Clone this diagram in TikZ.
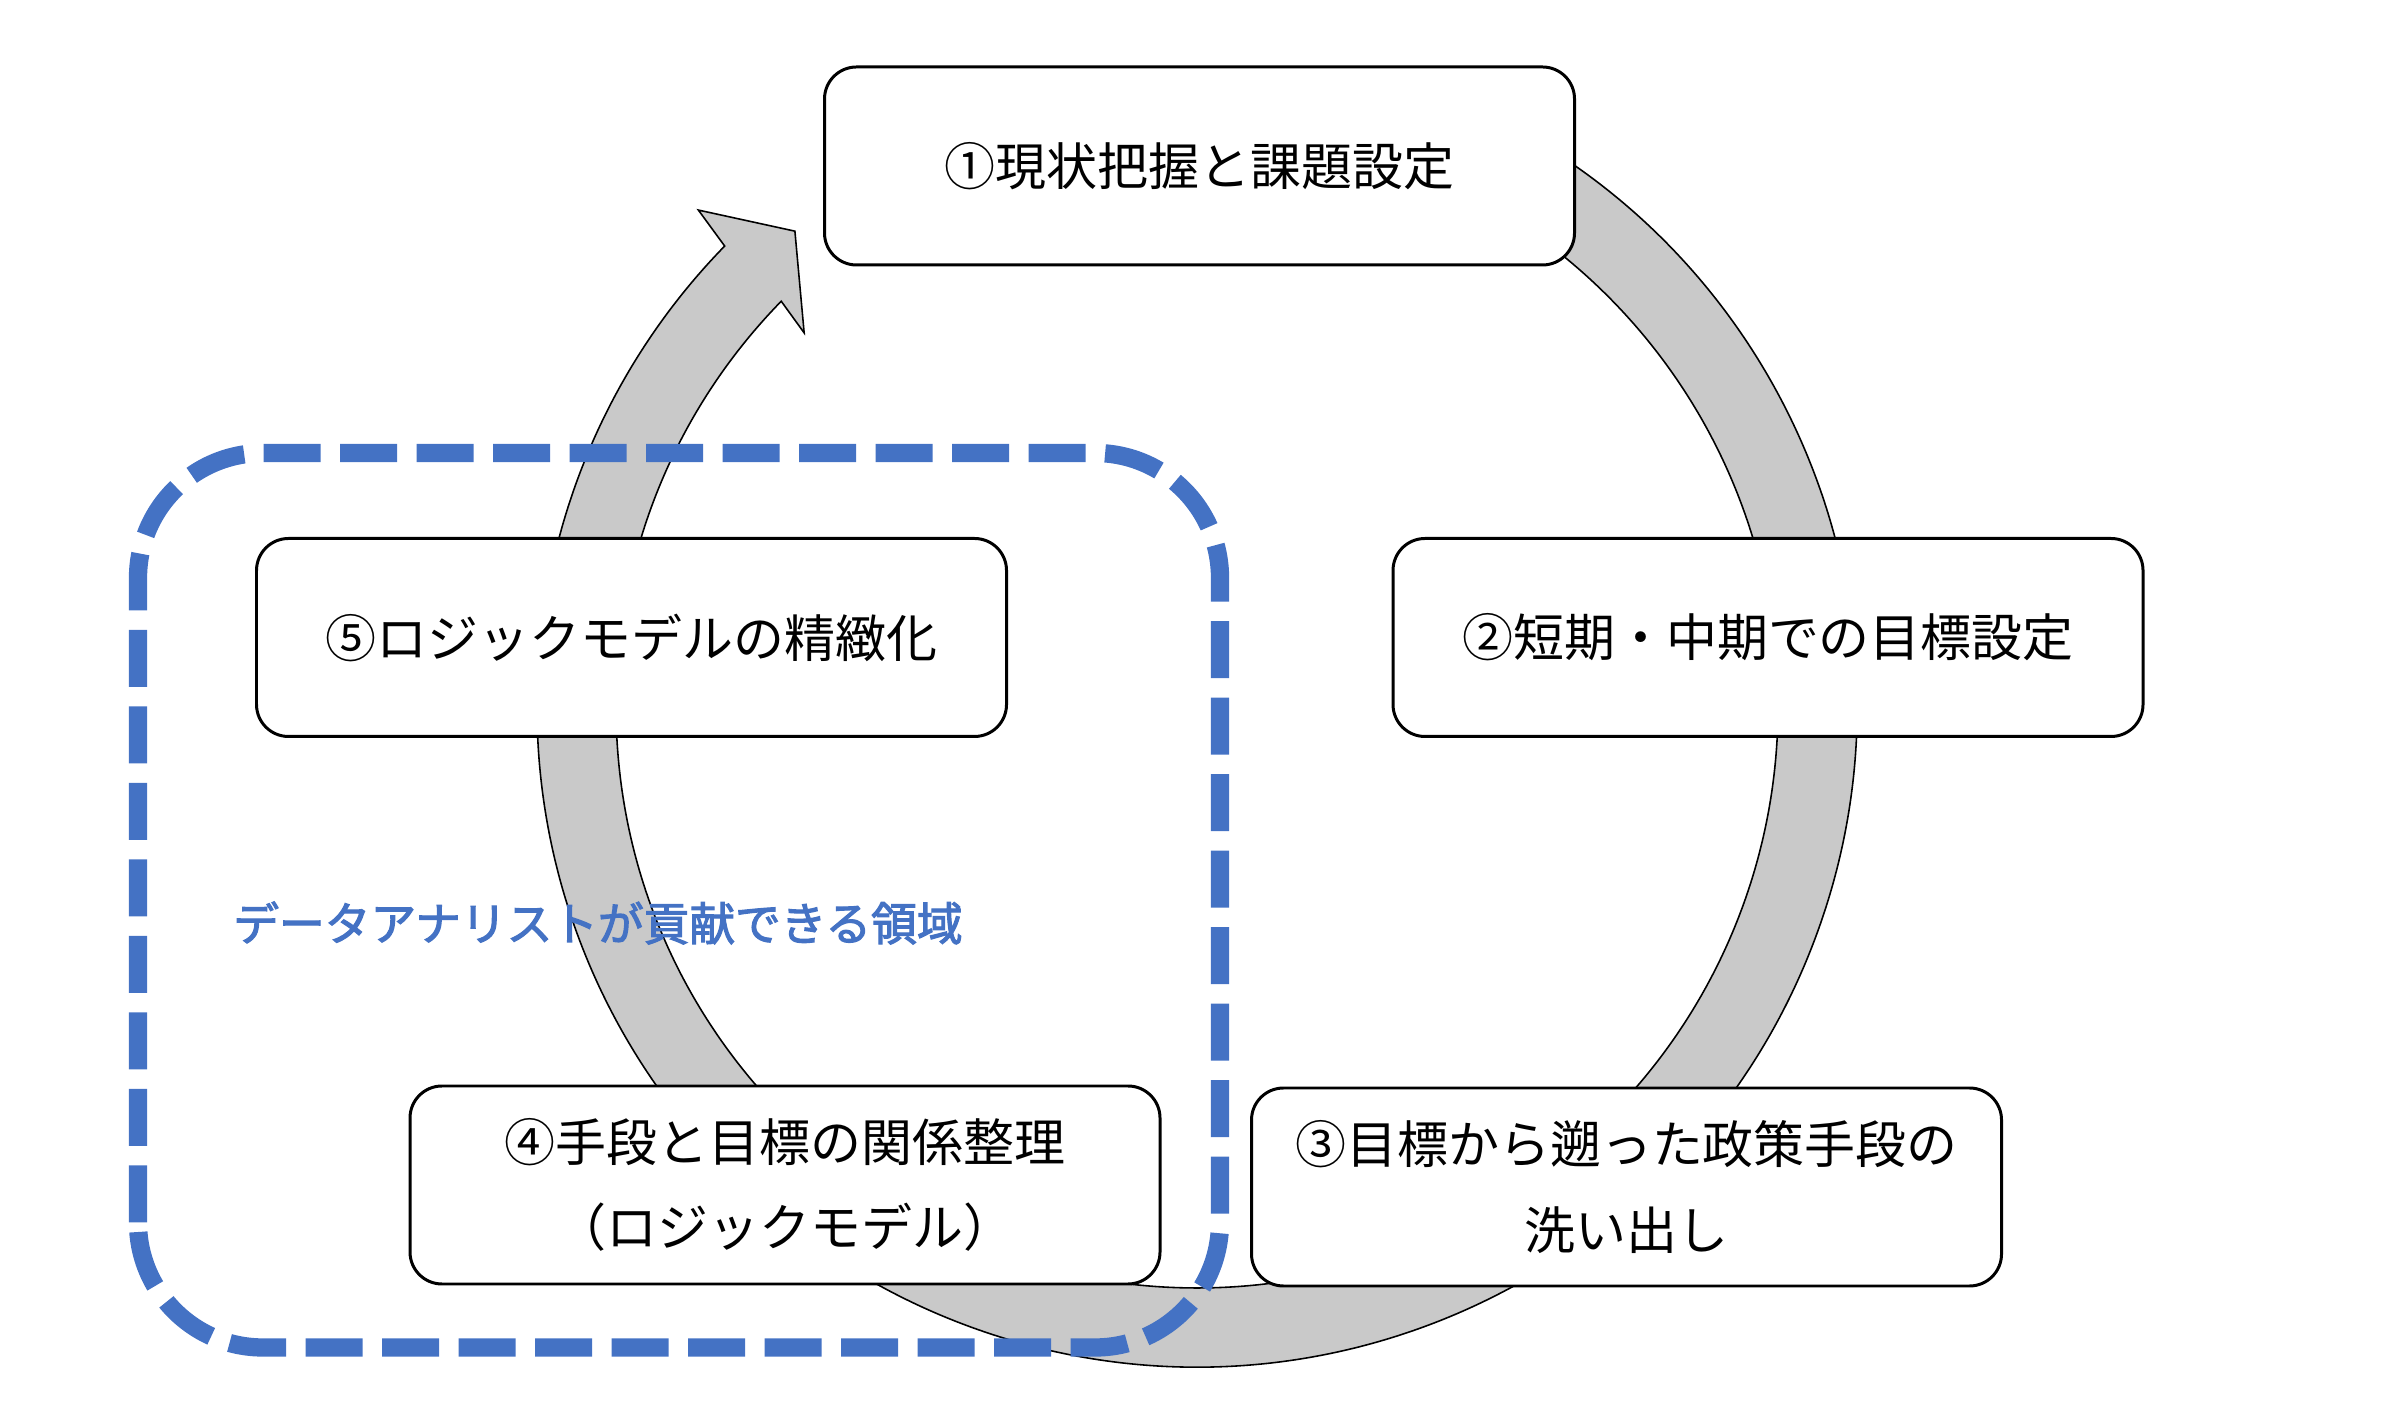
\documentclass[tikz,border=0pt]{standalone}
\usepackage{fontspec}
\setmainfont{Noto Sans CJK JP}[AutoFakeBold=2.5]
\usetikzlibrary{calc}
\definecolor{ringgray}{RGB}{201,201,201}
\definecolor{areablue}{RGB}{68,114,196}
\newcommand*{\bwd }{7.5cm}
\newcommand*{\bht }{1.98cm}
\newcommand*{\cx  }{11.97}
\newcommand*{\cy  }{7.05}
\newcommand*{\rout}{6.6}
\newcommand*{\rin }{5.81}

\begin{document}
\begin{tikzpicture}[
    stepbox/.style = {draw, fill=white, line width=0.85pt, rounded corners=0.32cm,
                      minimum width=\bwd, minimum height=\bht, align=center,
                      font=\fontsize{14.5}{24.4}\selectfont},
    region/.style  = {draw=areablue, line width=5.2pt, rounded corners=1.25cm,
                      dash pattern=on 5.7mm off 1.95mm}]
    \useasboundingbox (0,0) rectangle (24,14.12);
    % cycle arrow
    \filldraw [fill=ringgray, draw=black, line width=0.45pt, shift={(\cx,\cy)}] (70:\rout) arc [start angle=70, end angle=-224.3, radius=\rout] -- (135.1:7.04) -- (130.2:6.23) -- (136.4:5.425) -- (135.7:\rin) arc [start angle=-224.3, end angle=70, radius=\rin] -- cycle;
    \node [stepbox] (genjo)   at (11.995,12.46) {①現状把握と課題設定};
    \node [stepbox] (mokuhyo) at (17.68, 7.745) {②短期・中期での目標設定};
    \node [stepbox] (shudan)  at (16.265,2.25)  {③目標から遡った政策手段の\\洗い出し};
    \node [stepbox] (kankei)  at (7.85, 2.27)   {④手段と目標の関係整理\\（ロジックモデル）};
    \node [stepbox] (seichi)  at (6.315,7.745)  {⑤ロジックモデルの精緻化};
    % area of the analyst
    \draw [region] (1.38,0.645) rectangle (12.20,9.59);
    \node [text=areablue, font=\fontsize{13}{15}\selectfont\bfseries] (ryoiki) at (5.98,4.89) {データアナリストが貢献できる領域};
\end{tikzpicture}
\end{document}
